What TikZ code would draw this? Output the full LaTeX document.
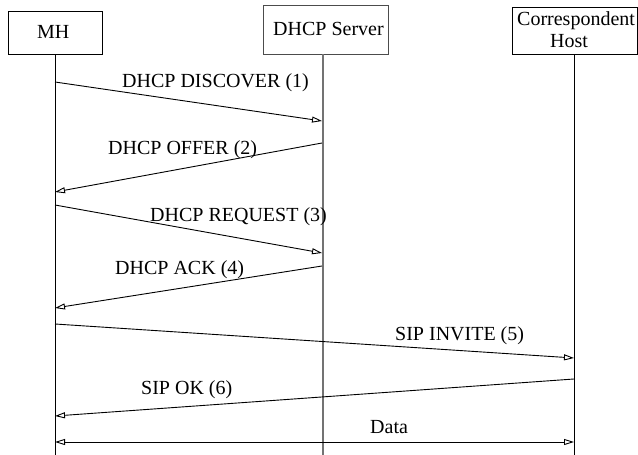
\documentclass[tikz,border=0pt]{standalone}
\usepackage{fontspec}
\setmainfont{Liberation Serif}
\usetikzlibrary{arrows.meta}
\begin{document}
\begin{tikzpicture}[x=1pt,y=-1pt,
  font=\fontsize{20}{24}\selectfont,
  lbl/.style={anchor=base west,inner sep=0pt},
  entity/.style={draw,line width=1pt},
  lifeline/.style={line width=1pt},
  msg/.style={line width=0.9pt,-{Triangle[open,length=10pt,width=6pt]}},
  both/.style={line width=0.9pt,{Triangle[open,length=10pt,width=6pt]}-{Triangle[open,length=10pt,width=6pt]}}]
\useasboundingbox (0,0) rectangle (638,455);

% participant boxes
\draw[entity] (8,11) rectangle (102,54);
\draw[entity,draw=black!70] (263,5) rectangle (388,54);
\draw[entity] (512,7) rectangle (637.5,54);
\node[lbl] (tmh) at (37,38) {MH};
\node[lbl] (tdhcp) at (273,35) {DHCP Server};
\node[lbl] (tch1) at (517,26) {Correspondent};
\node[lbl] (tch2) at (550,47) {Host};

% lifelines
\coordinate (mhtop) at (55,54);   \coordinate (mhbot) at (55,455);
\coordinate (dstop) at (323,54);  \coordinate (dsbot) at (323,455);
\coordinate (chtop) at (574.5,54);\coordinate (chbot) at (574.5,455);
\draw[lifeline] (mhtop) -- (mhbot);
\draw[lifeline,black!55,line width=1.4pt] (dstop) -- (dsbot);
\draw[lifeline] (chtop) -- (chbot);

% message end points
\coordinate (m1a) at (55,82);   \coordinate (m1b) at (322,121);
\coordinate (m2a) at (322,143); \coordinate (m2b) at (55,192);
\coordinate (m3a) at (55,205);  \coordinate (m3b) at (322,253);
\coordinate (m4a) at (322,266); \coordinate (m4b) at (55,308);
\coordinate (m5a) at (55,324);  \coordinate (m5b) at (574,358);
\coordinate (m6a) at (574,379); \coordinate (m6b) at (55,416);
\coordinate (d1) at (55,442);   \coordinate (d2) at (574,442);

\draw[msg] (m1a) -- (m1b);
\draw[msg] (m2a) -- (m2b);
\draw[msg] (m3a) -- (m3b);
\draw[msg] (m4a) -- (m4b);
\draw[msg] (m5a) -- (m5b);
\draw[msg] (m6a) -- (m6b);
\draw[both] (d1) -- (d2);

% message labels
\node[lbl] (l1) at (122,87) {DHCP DISCOVER (1)};
\node[lbl] (l2) at (108,154) {DHCP OFFER (2)};
\node[lbl] (l3) at (150,221) {DHCP REQUEST (3)};
\node[lbl] (l4) at (115,274) {DHCP ACK (4)};
\node[lbl] (l5) at (395,340) {SIP INVITE (5)};
\node[lbl] (l6) at (141,394) {SIP OK (6)};
\node[lbl] (l7) at (370,433) {Data};
\end{tikzpicture}
\end{document}
